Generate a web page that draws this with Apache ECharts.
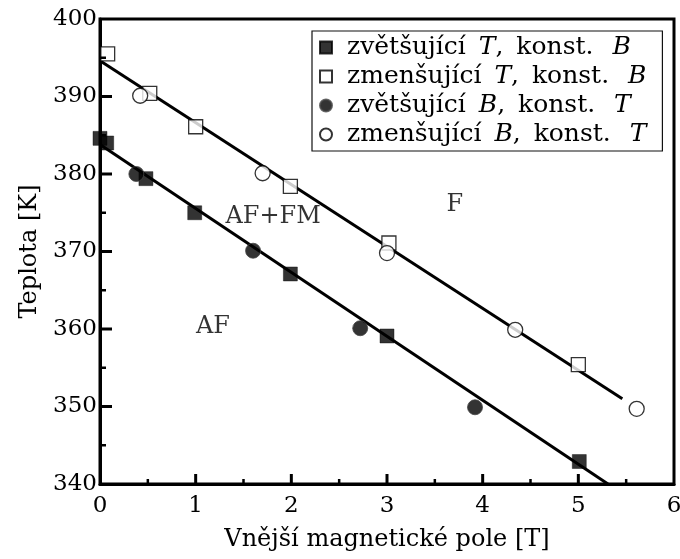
<!DOCTYPE html>
<html>
<head>
<meta charset="utf-8">
<script src="https://cdn.jsdelivr.net/npm/echarts@6/dist/echarts.min.js"></script>
<style>html,body{margin:0;padding:0;background:#fff}#c{width:680px;height:559px}</style>
</head>
<body>
<div id="c"></div>
<script>
// Data
const incTconstB = [[0.0, 384.6], [0.07, 384.0], [0.48, 379.4], [0.99, 375.0], [1.99, 367.1], [3.0, 359.1], [5.01, 342.9]];
const decTconstB = [[0.08, 395.5], [0.52, 390.4], [1.0, 386.1], [1.99, 378.4], [3.02, 371.1], [5.0, 355.4]];
const incBconstT = [[0.38, 380.0], [1.6, 370.1], [2.72, 360.1], [3.92, 349.9]];
const decBconstT = [[0.42, 390.1], [1.7, 380.1], [3.0, 369.8], [4.34, 359.9], [5.61, 349.7]];
const lowerLine = [[0.0, 383.8], [5.31, 340.0]];
const upperLine = [[0.0, 394.6], [5.46, 351.0]];
const seriesNames = ['zvětšující T, konst. B', 'zmenšující T, konst. B', 'zvětšující B, konst. T', 'zmenšující B, konst. T'];
const legendRich = {
  'zvětšující T, konst. B': '{g| }zvětšující {s|}{i|T}, {s|}konst. {w|}{i|B}{e| }',
  'zmenšující T, konst. B': '{g| }zmenšující {s|}{i|T}, {s|}konst. {w|}{i|B}{e| }',
  'zvětšující B, konst. T': '{g| }zvětšující {s|}{i|B}, {s|}konst. {w|}{i|T}{e| }',
  'zmenšující B, konst. T': '{g| }zmenšující {s|}{i|B}, {s|}konst. {w|}{i|T}{e| }'
};
const annotations = [
  {name: 'AF+FM', value: [1.81, 374.5]},
  {name: 'AF', value: [1.18, 360.3]},
  {name: 'F', value: [3.71, 376.0]}
];
const xTicks = {min: 0, max: 6, interval: 1};
const yTicks = {min: 340, max: 400, interval: 10};
const xMajorTicks = [1, 2, 3, 4, 5];
const xMinorTicks = [0.5, 1.5, 2.5, 3.5, 4.5, 5.5];
const yMajorTicks = [350, 360, 370, 380, 390];
const yMinorTicks = [345, 355, 365, 375, 385, 395];

const FONT = 'DejaVu Serif';
const FS = 23;
const LFS = 25;
const chart = echarts.init(document.getElementById('c'));
const lineStyle = {color: '#000', width: 3};

function tickSeries(values, isX, len, w) {
  return {
    type: 'custom', silent: true, z: 6, clip: false,
    data: values.map(v => isX ? [v, yTicks.min] : [xTicks.min, v]),
    renderItem: (params, api) => {
      const p = api.coord([api.value(0), api.value(1)]);
      const shape = isX ? {x1: p[0], y1: p[1], x2: p[0], y2: p[1] - len}
                        : {x1: p[0], y1: p[1], x2: p[0] + len, y2: p[1]};
      return {type: 'line', shape: shape, style: {stroke: '#000', lineWidth: w}};
    }
  };
}

chart.setOption({
  animation: false,
  grid: {left: 100, right: 6, top: 19, bottom: 75, outerBoundsMode: 'none',
    show: true, borderColor: '#000', borderWidth: 3},
  xAxis: {
    type: 'value', min: xTicks.min, max: xTicks.max, interval: xTicks.interval,
    name: 'Vnější magnetické pole [T]', nameLocation: 'middle', nameGap: 44,
    nameTextStyle: {fontFamily: FONT, fontSize: 24, color: '#000'},
    axisLine: {show: true, onZero: false, lineStyle: {color: '#000', width: 3}},
    axisTick: {show: false},
    axisLabel: {fontFamily: FONT, fontSize: FS, color: '#000', margin: 11},
    splitLine: {show: false}
  },
  yAxis: {
    type: 'value', min: yTicks.min, max: yTicks.max, interval: yTicks.interval,
    name: 'Teplota [K]', nameLocation: 'middle', nameGap: 57, nameRotate: 90,
    nameTextStyle: {fontFamily: FONT, fontSize: 24, color: '#000'},
    axisLine: {show: true, onZero: false, lineStyle: {color: '#000', width: 3}},
    axisTick: {show: false},
    axisLabel: {fontFamily: FONT, fontSize: FS, color: '#000', margin: 3},
    splitLine: {show: false}
  },
  legend: {
    orient: 'vertical', left: 312, top: 31,
    data: seriesNames,
    backgroundColor: '#fff', borderColor: '#111', borderWidth: 1.2, borderRadius: 0,
    padding: [2, 2, 2, 7], itemGap: 0, itemWidth: 12, itemHeight: 12,
    formatter: n => legendRich[n],
    textStyle: {fontFamily: FONT, fontSize: LFS, lineHeight: 29, color: '#000',
      rich: {i: {fontFamily: FONT, fontStyle: 'italic', fontSize: LFS, lineHeight: 29, color: '#000'},
             g: {width: 10, fontSize: LFS, lineHeight: 29},
             s: {width: 5, fontSize: LFS, lineHeight: 29},
             w: {width: 11, fontSize: LFS, lineHeight: 29},
             e: {width: 14, fontSize: LFS, lineHeight: 29}}}
  },
  series: [
    {type: 'line', data: lowerLine, symbol: 'none', lineStyle: lineStyle, silent: true, z: 2},
    {type: 'line', data: upperLine, symbol: 'none', lineStyle: lineStyle, silent: true, z: 2},
    {name: seriesNames[0], type: 'scatter', data: incTconstB, symbol: 'rect', symbolSize: 14,
      itemStyle: {color: '#000', borderColor: '#000', borderWidth: 0.5}, z: 3},
    {name: seriesNames[1], type: 'scatter', data: decTconstB, symbol: 'rect', symbolSize: 14,
      itemStyle: {color: '#fff', borderColor: '#000', borderWidth: 1.3}, z: 3},
    {name: seriesNames[2], type: 'scatter', data: incBconstT, symbol: 'circle', symbolSize: 15,
      itemStyle: {color: '#000', borderColor: '#444', borderWidth: 1}, z: 3},
    {name: seriesNames[3], type: 'scatter', data: decBconstT, symbol: 'circle', symbolSize: 15,
      itemStyle: {color: '#fff', borderColor: '#000', borderWidth: 1.3}, z: 3},
    {type: 'scatter', data: annotations, symbolSize: 0, silent: true, z: 4,
      label: {show: true, position: 'inside', formatter: p => p.name, fontFamily: FONT, fontSize: 24, color: '#000'}},
    tickSeries(xMajorTicks, true, 10, 3),
    tickSeries(xMinorTicks, true, 5, 2.5),
    tickSeries(yMajorTicks, false, 12, 3),
    tickSeries(yMinorTicks, false, 6, 2.5)
  ]
});
</script>
</body>
</html>
